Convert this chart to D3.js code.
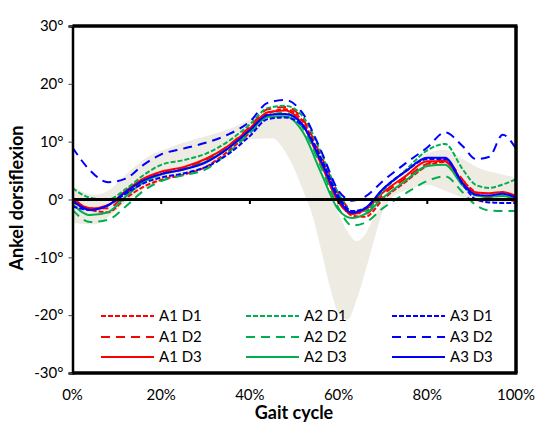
<!DOCTYPE html>
<html>
<head>
<meta charset="utf-8">
<script src="https://cdn.jsdelivr.net/npm/d3@7"></script>
<style>
  body { margin: 0; background: #fff; }
  svg { font-family: Lato, "Open Sans", sans-serif; }
</style>
</head>
<body>
<div id="container"></div>
<script>
// gait cycle positions (%) used by all curves
const cycle = [0, 4, 8, 12, 16, 20, 25, 30, 35, 40, 44, 48, 52, 56, 60, 63, 66, 70, 75, 80, 84, 88, 91, 94, 97, 100];

const a1d1 = [-0.4, -1.8, -2.2, 0.2, 2.2, 3.4, 4.3, 5.6, 8.3, 11.6, 14.8, 15.6, 13.4, 7.2, 0.5, -2.8, -3.0, 0.0, 3.0, 5.8, 6.5, 3.2, 1.2, 0.3, 0.0, 0.0];
const a1d2 = [0.3, -1.5, -1.5, 1.0, 3.2, 4.5, 5.4, 6.8, 9.2, 12.6, 15.6, 16.0, 13.8, 7.6, 1.0, -2.0, -2.5, 0.8, 3.6, 6.2, 6.8, 3.4, 1.0, 0.3, 0.0, -0.3];
const a1d3 = [0.3, -1.6, -1.0, 1.5, 3.6, 4.8, 5.6, 7.0, 9.2, 12.3, 15.1, 15.4, 12.8, 6.2, -0.5, -2.5, -1.8, 1.2, 4.0, 6.6, 6.6, 2.8, 1.2, 1.1, 1.3, 0.6];
const a2d1 = [2.0, 0.3, 0.0, 1.8, 4.2, 6.0, 6.8, 7.9, 10.0, 13.0, 15.8, 16.2, 14.3, 8.2, 1.0, -2.0, -2.0, 1.5, 5.0, 8.5, 9.6, 5.2, 2.5, 2.0, 2.6, 3.5];
const a2d2 = [-1.8, -3.9, -3.5, -1.2, 1.5, 3.2, 4.2, 5.2, 8.0, 11.5, 14.4, 15.0, 12.3, 5.7, -1.5, -4.5, -4.0, -1.5, 1.0, 3.2, 4.0, 1.2, -1.0, -1.9, -2.0, -2.0];
const a2d3 = [-0.8, -2.7, -2.2, 0.5, 3.0, 4.3, 5.2, 6.5, 8.8, 11.8, 14.3, 14.4, 11.6, 4.7, -1.8, -3.2, -2.5, 0.3, 3.2, 5.8, 6.0, 2.4, 0.7, 0.5, 0.6, 0.0];
const a3d1 = [-1.2, -1.8, -1.0, 1.0, 2.8, 3.8, 4.5, 5.6, 7.8, 11.0, 13.9, 14.2, 12.6, 7.2, 0.5, -2.0, -1.5, 1.8, 4.8, 7.0, 7.0, 2.6, 0.0, -0.5, -0.6, -0.6];
const a3d2 = [9.0, 5.0, 3.0, 3.6, 6.0, 7.8, 8.8, 9.8, 11.2, 13.5, 16.7, 17.2, 14.8, 8.5, 1.5, -0.2, 0.5, 3.2, 6.2, 9.0, 11.6, 9.2, 7.0, 7.4, 11.2, 8.8];
const a3d3 = [-0.2, -1.8, -1.0, 1.3, 3.3, 4.4, 5.2, 6.4, 8.8, 12.0, 14.6, 14.8, 12.8, 6.7, 0.0, -2.3, -1.5, 1.8, 4.8, 7.2, 7.2, 2.8, 0.8, 0.7, 1.0, 0.3];

// normative band
const bandCycle = [0, 5, 8, 12, 17, 22, 29, 35, 40, 45, 48, 50, 52, 54, 56, 58, 60, 62, 64, 66, 68, 70, 72, 75, 80, 84, 88, 92, 96, 100];
const bandUpper = [2.2, 0.8, 1.5, 4.3, 7.4, 9.0, 10.7, 12.1, 13.8, 15.3, 15.0, 14.0, 12.0, 9.0, 5.5, 1.5, -2.5, -5.5, -7.2, -6.0, -3.0, -0.5, 1.8, 4.5, 8.0, 8.6, 7.0, 5.3, 4.5, 3.8];
const bandLower = [-4.0, -4.3, -3.0, -0.5, 2.2, 3.5, 5.0, 8.0, 10.4, 10.6, 8.2, 5.3, 1.5, -2.5, -8.5, -15.0, -19.6, -20.8, -17.5, -12.5, -7.0, -2.0, 0.3, 1.5, 2.5, 1.5, 0.3, -0.5, -0.5, 0.0];

const seriesNames = ["A1 D1", "A1 D2", "A1 D3", "A2 D1", "A2 D2", "A2 D3", "A3 D1", "A3 D2", "A3 D3"];
const seriesValues = [a1d1, a1d2, a1d3, a2d1, a2d2, a2d3, a3d1, a3d2, a3d3];
const seriesColors = ["#FF0000", "#FF0000", "#FF0000", "#00B050", "#00B050", "#00B050", "#0000FF", "#0000FF", "#0000FF"];
const seriesDash = ["5,2", "9,6", null, "5,2", "9,6", null, "5,2", "9,6", null];

const yTicks = [-30, -20, -10, 0, 10, 20, 30];
const xTicks = [0, 20, 40, 60, 80, 100];

const width = 546, height = 430;
const plotLeft = 72.5, plotRight = 516, plotTop = 26, plotBottom = 373;

const svg = d3.select("#container").append("svg")
  .attr("width", width).attr("height", height);

const x = d3.scaleLinear().domain([0, 100]).range([plotLeft, plotRight]);
const y = d3.scaleLinear().domain([-30, 30]).range([plotBottom, plotTop]);

// band
const band = d3.area()
  .x((d) => x(d[0]))
  .y0((d) => y(d[2]))
  .y1((d) => y(d[1]))
  .curve(d3.curveMonotoneX);

svg.append("path")
  .datum(bandCycle.map((c, i) => [c, bandUpper[i], bandLower[i]]))
  .attr("d", band)
  .attr("fill", "#EEEBE2");

// curves
const line = d3.line()
  .x((d) => x(d[0]))
  .y((d) => y(d[1]))
  .curve(d3.curveMonotoneX);

seriesValues.forEach((vals, i) => {
  svg.append("path")
    .datum(cycle.map((c, j) => [c, vals[j]]))
    .attr("d", line)
    .attr("fill", "none")
    .attr("stroke", seriesColors[i])
    .attr("stroke-width", 2)
    .attr("stroke-dasharray", seriesDash[i]);
});

// zero line with ticks
svg.append("line")
  .attr("x1", x(0)).attr("x2", x(100))
  .attr("y1", y(0)).attr("y2", y(0))
  .attr("stroke", "#000").attr("stroke-width", 3);

svg.selectAll(".xtick")
  .data(xTicks.slice(1, -1))
  .enter()
  .append("line")
  .attr("x1", (d) => x(d)).attr("x2", (d) => x(d))
  .attr("y1", y(0)).attr("y2", y(0) + 4.5)
  .attr("stroke", "#000").attr("stroke-width", 2);

// frame
svg.append("line")
  .attr("x1", plotLeft).attr("x2", plotRight + 1.5)
  .attr("y1", plotTop).attr("y2", plotTop)
  .attr("stroke", "#000").attr("stroke-width", 3.5);
svg.append("line")
  .attr("x1", plotRight).attr("x2", plotRight)
  .attr("y1", plotTop).attr("y2", plotBottom)
  .attr("stroke", "#000").attr("stroke-width", 3.5);
svg.append("line")
  .attr("x1", plotLeft).attr("x2", plotRight + 1.5)
  .attr("y1", plotBottom).attr("y2", plotBottom)
  .attr("stroke", "#000").attr("stroke-width", 3.5);

// y axis
const yAxis = svg.append("g")
  .attr("transform", `translate(${plotLeft},0)`)
  .call(d3.axisLeft(y).tickValues(yTicks).tickSize(4).tickFormat((d) => d + "°"));
yAxis.select(".domain").attr("stroke", "#000").attr("stroke-width", 2.5);
yAxis.selectAll(".tick line").attr("stroke", "#444");
yAxis.selectAll("text")
  .attr("x", -9)
  .attr("fill", "#000")
  .style("font-size", "15px")
  .style("font-family", "Lato, sans-serif");

// x labels
svg.selectAll(".xlabel")
  .data(xTicks)
  .enter()
  .append("text")
  .attr("x", (d) => x(d))
  .attr("y", 400)
  .attr("text-anchor", "middle")
  .style("font-size", "15px")
  .text((d) => d + "%");

// axis titles
svg.append("text")
  .attr("transform", "translate(23,198) rotate(-90)")
  .attr("text-anchor", "middle")
  .style("font-size", "18px")
  .style("font-weight", "bold")
  .text("Ankel dorsiflexion");

svg.append("text")
  .attr("x", 294)
  .attr("y", 419)
  .attr("text-anchor", "middle")
  .style("font-size", "18px")
  .style("font-weight", "bold")
  .text("Gait cycle");

// legend
const legCols = [101, 246, 392];
const legRows = [316, 337, 357];
seriesNames.forEach((name, i) => {
  const col = Math.floor(i / 3), row = i % 3;
  const g = svg.append("g").attr("transform", `translate(${legCols[col]},${legRows[row]})`);
  g.append("line")
    .attr("x1", 0).attr("x2", 53)
    .attr("stroke", seriesColors[i])
    .attr("stroke-width", 2)
    .attr("stroke-dasharray", seriesDash[i]);
  g.append("text")
    .attr("x", 58)
    .attr("y", 5)
    .style("font-size", "15px")
    .text(name);
});
</script>
</body>
</html>
